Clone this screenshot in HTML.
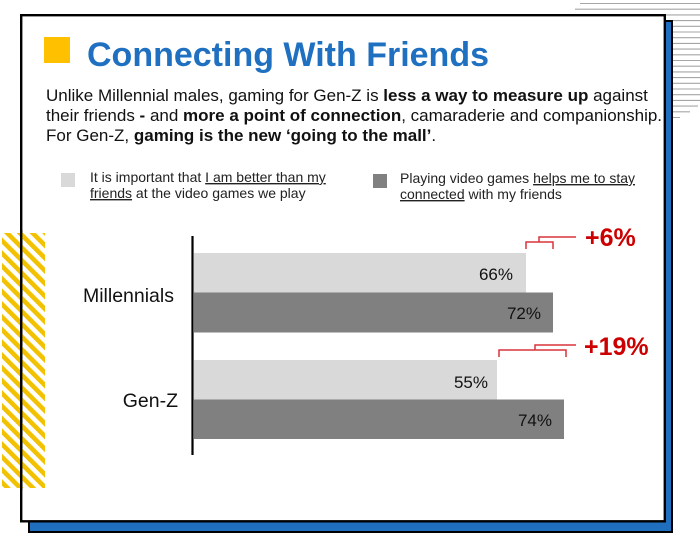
<!DOCTYPE html>
<html>
<head>
<meta charset="utf-8">
<style>
  html,body{margin:0;padding:0;background:#fff;}
  body{width:700px;height:552px;overflow:hidden;}
  svg{display:block;}
  text{font-family:"Liberation Sans", Arial, sans-serif;}
</style>
</head>
<body>
<svg width="700" height="552" viewBox="0 0 700 552" xmlns="http://www.w3.org/2000/svg">
  <defs>
    <pattern id="hatch" patternUnits="userSpaceOnUse" width="9" height="9" patternTransform="rotate(-45)">
      <rect x="0" y="0" width="4.6" height="9" fill="#f2c200"/>
    </pattern>
  </defs>

  <!-- gray lines top right -->
  <g stroke="#a6a6a6" stroke-width="1.1">
    <line x1="580" y1="3.5" x2="700" y2="3.5"/>
    <line x1="575" y1="9.2" x2="700" y2="9.2"/>
    <line x1="570" y1="14.9" x2="700" y2="14.9"/>
    <line x1="660" y1="20.6" x2="700" y2="20.6"/>
    <line x1="660" y1="26.3" x2="700" y2="26.3"/>
    <line x1="660" y1="32" x2="700" y2="32"/>
    <line x1="660" y1="37.7" x2="700" y2="37.7"/>
    <line x1="660" y1="43.4" x2="700" y2="43.4"/>
    <line x1="660" y1="49.1" x2="700" y2="49.1"/>
    <line x1="660" y1="54.8" x2="700" y2="54.8"/>
    <line x1="660" y1="60.5" x2="700" y2="60.5"/>
    <line x1="660" y1="66.2" x2="700" y2="66.2"/>
    <line x1="660" y1="71.9" x2="700" y2="71.9"/>
    <line x1="660" y1="77.6" x2="700" y2="77.6"/>
    <line x1="660" y1="83.3" x2="700" y2="83.3"/>
    <line x1="660" y1="89" x2="700" y2="89"/>
    <line x1="660" y1="94.7" x2="700" y2="94.7"/>
    <line x1="660" y1="100.4" x2="700" y2="100.4"/>
    <line x1="660" y1="106.1" x2="698" y2="106.1"/>
    <line x1="660" y1="111.8" x2="690" y2="111.8"/>
    <line x1="660" y1="117.5" x2="680" y2="117.5"/>
  </g>

  <!-- shadow -->
  <rect x="29" y="21" width="643" height="511" fill="#1f6fbe" stroke="#000" stroke-width="2"/>
  <!-- card -->
  <rect x="21.2" y="15.2" width="643.6" height="506.1" fill="#fff" stroke="#000" stroke-width="2.4"/>

  <!-- yellow hatch -->
  <rect x="2" y="233" width="43" height="255" fill="url(#hatch)"/>
  <line x1="21.2" y1="230" x2="21.2" y2="490" stroke="#000" stroke-width="2.4"/>

  <!-- title -->
  <rect x="44" y="37" width="26" height="26" fill="#ffc000"/>
  <text x="87" y="66" font-size="34" font-weight="bold" fill="#1f70c0">Connecting With Friends</text>

  <!-- body -->
  <g font-size="17" fill="#111">
    <text x="46" y="101">Unlike Millennial males, gaming for Gen-Z is <tspan font-weight="bold">less a way to measure up</tspan> against</text>
    <text x="46" y="121">their friends <tspan font-weight="bold">-</tspan> and <tspan font-weight="bold">more a point of connection</tspan>, camaraderie and companionship.</text>
    <text x="46" y="141">For Gen-Z, <tspan font-weight="bold">gaming is the new ‘going to the mall’</tspan>.</text>
  </g>

  <!-- legend -->
  <rect x="61" y="173" width="14" height="14" fill="#d9d9d9"/>
  <g font-size="14" fill="#222">
    <text x="90" y="182">It is important that <tspan text-decoration="underline">I am better than my</tspan></text>
    <text x="90" y="198"><tspan text-decoration="underline">friends</tspan> at the video games we play</text>
  </g>
  <rect x="373" y="174" width="14" height="14" fill="#808080"/>
  <g font-size="14" fill="#222">
    <text x="400" y="183">Playing video games <tspan text-decoration="underline">helps me to stay</tspan></text>
    <text x="400" y="199"><tspan text-decoration="underline">connected</tspan> with my friends</text>
  </g>

  <!-- bars -->
  <rect x="194" y="253" width="332" height="39.5" fill="#d9d9d9"/>
  <rect x="194" y="292.5" width="359" height="40" fill="#808080"/>
  <rect x="194" y="360" width="303" height="39.5" fill="#d9d9d9"/>
  <rect x="194" y="399.5" width="370" height="39.5" fill="#808080"/>
  <line x1="192.5" y1="236" x2="192.5" y2="455" stroke="#000" stroke-width="2.2"/>

  <!-- bar labels -->
  <g font-size="17" fill="#111" text-anchor="end">
    <text x="513" y="280">66%</text>
    <text x="541" y="319">72%</text>
    <text x="488" y="388">55%</text>
    <text x="552" y="426">74%</text>
  </g>

  <!-- categories -->
  <g font-size="19.5" fill="#111" text-anchor="end">
    <text x="174" y="302">Millennials</text>
    <text x="178" y="407">Gen-Z</text>
  </g>

  <!-- brackets -->
  <g stroke="#d9333b" stroke-width="1.5" fill="none">
    <polyline points="526,249 526,242 553,242 553,249"/>
    <polyline points="539,242 539,237 576,237"/>
    <polyline points="499,357 499,350 566,350 566,357"/>
    <polyline points="535,350 535,345 576,345"/>
  </g>
  <g font-size="25" font-weight="bold" fill="#cc0000">
    <text x="585" y="246">+6%</text>
    <text x="584" y="355">+19%</text>
  </g>
</svg>
</body>
</html>
